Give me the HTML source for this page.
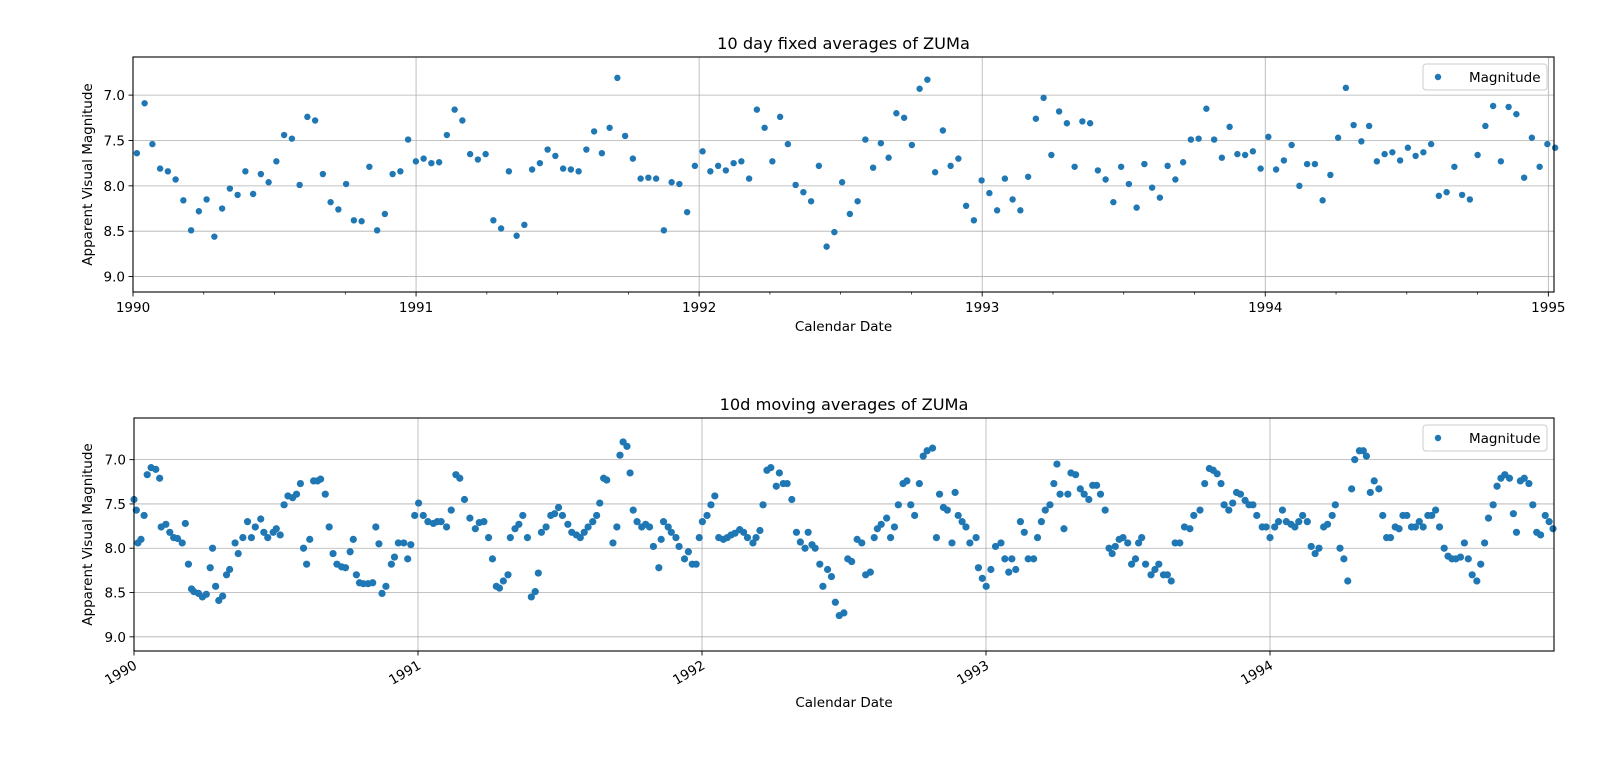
<!DOCTYPE html>
<html><head><meta charset="utf-8"><style>
html,body{margin:0;padding:0;background:#fff;}
svg{display:block;font-family:"DejaVu Sans","Liberation Sans",sans-serif;}
</style></head><body>
<svg id="chart" width="1600" height="770" viewBox="0 0 1600 770" xmlns="http://www.w3.org/2000/svg"></svg>
<script>
// ---- Top chart data: 10 day fixed averages (bin index -> magnitude) ----
const fixedBinDays = 10;
const fixedFirstDay = 5;
const fixedMags = [
7.64,7.09,7.54,7.81,7.84,7.93,8.16,8.49,8.28,8.15,
8.56,8.25,8.03,8.10,7.84,8.09,7.87,7.96,7.73,7.44,
7.48,7.99,7.24,7.28,7.87,8.18,8.26,7.98,8.38,8.39,
7.79,8.49,8.31,7.87,7.84,7.49,7.73,7.70,7.75,7.74,
7.44,7.16,7.28,7.65,7.71,7.65,8.38,8.47,7.84,8.55,
8.43,7.82,7.75,7.60,7.67,7.81,7.82,7.84,7.60,7.40,
7.64,7.36,6.81,7.45,7.70,7.92,7.91,7.92,8.49,7.96,
7.98,8.29,7.78,7.62,7.84,7.78,7.83,7.75,7.73,7.92,
7.16,7.36,7.73,7.24,7.54,7.99,8.07,8.17,7.78,8.67,
8.51,7.96,8.31,8.17,7.49,7.80,7.53,7.69,7.20,7.25,
7.55,6.93,6.83,7.85,7.39,7.78,7.70,8.22,8.38,7.94,
8.08,8.27,7.92,8.15,8.27,7.90,7.26,7.03,7.66,7.18,
7.31,7.79,7.29,7.31,7.83,7.93,8.18,7.79,7.98,8.24,
7.76,8.02,8.13,7.78,7.93,7.74,7.49,7.48,7.15,7.49,
7.69,7.35,7.65,7.66,7.62,7.81,7.46,7.82,7.72,7.55,
8.00,7.76,7.76,8.16,7.88,7.47,6.92,7.33,7.51,7.34,
7.73,7.65,7.63,7.72,7.58,7.67,7.63,7.54,8.11,8.07,
7.79,8.10,8.15,7.66,7.34,7.12,7.73,7.13,7.21,7.91,
7.47,7.79,7.54,7.58];

// ---- Bottom chart data: 10d moving averages (days since 1990-01-01, magnitude) ----
const movingDays = [
0,3,5,9,13,17,22,28,33,35,41,46,51,56,62,66,70,74,77,83,
88,93,98,101,105,109,114,119,123,130,134,140,146,151,156,163,167,172,179,183,
188,193,198,204,209,214,218,222,226,231,236,240,246,251,256,261,267,272,278,282,
286,290,295,301,307,311,315,319,324,331,335,340,347,352,356,361,366,372,378,385,
390,395,402,408,414,419,425,432,439,444,450,456,461,466,470,475,481,484,490,495,
500,506,511,516,520,524,530,536,541,546,551,558,563,569,574,579,584,590,595,599,
604,608,616,621,625,629,634,638,642,647,653,658,663,668,675,678,681,687,691,697,
701,708,713,718,723,727,731,737,742,747,752,758,763,768,773,779,784,789,796,800,
805,809,814,819,826,830,835,840,846,852,857,863,867,872,876,882,886,892,897,902,
907,913,918,923,930,936,941,947,952,956,961,968,973,978,983,989,994,999,1004,1010,
1015,1020,1027,1032,1036,1041,1046,1052,1056,1060,1065,1070,1075,1083,1086,1091,1096,1102,1108,1115,
1120,1125,1129,1134,1140,1145,1150,1157,1162,1167,1172,1178,1183,1187,1191,1196,1201,1205,1211,1217,
1222,1228,1233,1238,1243,1249,1254,1258,1262,1267,1272,1278,1283,1288,1292,1296,1301,1308,1313,1318,
1324,1329,1334,1339,1345,1351,1358,1363,1371,1377,1383,1388,1393,1398,1402,1408,1413,1418,1423,1429,
1434,1439,1444,1451,1456,1461,1467,1472,1477,1482,1488,1493,1498,1503,1509,1514,1519,1524,1530,1535,
1541,1545,1551,1556,1561,1566,1570,1576,1581,1585,1590,1595,1601,1606,1611,1616,1622,1627,1632,1637,
1643,1648,1653,1658,1664,1669,1674,1679,1685,1690,1695,1700,1706,1711,1716,1721,1727,1732,1737,1742,
1748,1753,1758,1763,1769,1774,1778,1783,1788,1794,1799,1804,1809,1815,1820,1825];
const movingMags = [
7.45,7.57,7.94,7.90,7.63,7.17,7.09,7.11,7.21,7.76,7.73,7.82,7.88,7.89,7.94,7.72,8.18,8.46,8.49,8.51,
8.55,8.52,8.22,8.00,8.43,8.59,8.54,8.30,8.24,7.94,8.06,7.88,7.70,7.88,7.76,7.67,7.82,7.88,7.82,7.78,
7.85,7.51,7.41,7.43,7.39,7.27,8.00,8.18,7.90,7.24,7.24,7.22,7.39,7.76,8.06,8.18,8.21,8.22,8.04,7.90,
8.30,8.39,8.40,8.40,8.39,7.76,7.95,8.51,8.43,8.18,8.10,7.94,7.94,8.12,7.96,7.63,7.49,7.63,7.70,7.72,
7.70,7.70,7.76,7.57,7.17,7.21,7.45,7.66,7.78,7.71,7.70,7.88,8.12,8.43,8.45,8.37,8.30,7.88,7.78,7.73,
7.63,7.88,8.55,8.49,8.28,7.82,7.76,7.63,7.61,7.54,7.63,7.73,7.82,7.85,7.88,7.82,7.76,7.70,7.63,7.49,
7.21,7.23,7.94,7.76,6.95,6.80,6.85,7.15,7.57,7.70,7.76,7.73,7.76,7.98,8.22,7.90,7.70,7.76,7.82,7.88,
7.98,8.12,8.04,8.18,8.18,7.88,7.70,7.63,7.51,7.41,7.88,7.90,7.88,7.85,7.83,7.79,7.82,7.88,7.94,7.88,
7.80,7.51,7.12,7.09,7.30,7.15,7.27,7.27,7.45,7.82,7.93,8.00,7.82,7.96,8.00,8.18,8.43,8.24,8.32,8.61,
8.76,8.73,8.12,8.15,7.90,7.94,8.30,8.27,7.88,7.78,7.73,7.66,7.88,7.76,7.51,7.27,7.24,7.51,7.63,7.27,
6.96,6.90,6.87,7.88,7.39,7.54,7.57,7.94,7.37,7.63,7.70,7.76,7.94,7.88,8.22,8.34,8.43,8.24,7.98,7.94,
8.12,8.27,8.12,8.24,7.70,7.82,8.12,8.12,7.88,7.70,7.57,7.51,7.27,7.05,7.39,7.78,7.39,7.15,7.17,7.33,
7.39,7.45,7.29,7.29,7.39,7.57,8.00,8.06,7.98,7.90,7.88,7.94,8.18,8.12,7.94,7.88,8.18,8.30,8.24,8.18,
8.30,8.30,8.37,7.94,7.94,7.76,7.78,7.63,7.57,7.27,7.10,7.12,7.16,7.27,7.51,7.57,7.49,7.37,7.39,7.46,
7.51,7.51,7.63,7.76,7.76,7.88,7.76,7.70,7.57,7.70,7.73,7.76,7.70,7.63,7.70,7.98,8.06,8.00,7.76,7.73,
7.63,7.51,8.00,8.12,8.37,7.33,7.00,6.90,6.90,6.96,7.37,7.24,7.33,7.63,7.88,7.88,7.76,7.78,7.63,7.63,
7.76,7.76,7.70,7.76,7.63,7.63,7.57,7.76,8.00,8.09,8.12,8.12,8.10,7.94,8.12,8.30,8.37,8.18,7.94,7.66,
7.51,7.30,7.21,7.17,7.21,7.61,7.82,7.24,7.21,7.27,7.51,7.82,7.85,7.63,7.70,7.78];

// ---- Tick labels ----
const yTickValues = [7.0, 7.5, 8.0, 8.5, 9.0];
const yTickLabels = ["7.0", "7.5", "8.0", "8.5", "9.0"];
const topYearTicks = [1990, 1991, 1992, 1993, 1994, 1995];
const bottomYearTicks = [1990, 1991, 1992, 1993, 1994];

const NS = "http://www.w3.org/2000/svg";
const svg = document.getElementById("chart");
const COLOR = "#1f77b4";

function mk(tag, attrs, parent) {
  const e = document.createElementNS(NS, tag);
  for (const k in attrs) e.setAttribute(k, attrs[k]);
  (parent || svg).appendChild(e);
  return e;
}

function drawPanel(cfg) {
  const g = mk("g", {});
  
  
  const L = cfg.left, R = cfg.right, T = cfg.top, B = cfg.bottom;
  const xS = v => L + (v - cfg.x0) / (cfg.x1 - cfg.x0) * (R - L);
  const yS = v => T + (v - cfg.y0) / (cfg.y1 - cfg.y0) * (B - T);

  const grid = mk("g", {}, g);
  
  
  cfg.years.forEach(yr => {
    const x = xS(yr);
    if (x >= L - 0.5 && x <= R + 0.5) mk("line", {x1:x, x2:x, y1:T, y2:B, stroke:"#b0b0b0", "stroke-width":0.8}, grid);
  });
  yTickValues.forEach(v => {
    const y = yS(v);
    mk("line", {x1:L, x2:R, y1:y, y2:y, stroke:"#b0b0b0", "stroke-width":0.8}, grid);
  });

  const pts = mk("g", {}, g);
  
  
  cfg.dates.forEach((d, i) => {
    const c = mk("circle", {cx: xS(d).toFixed(2), cy: yS(cfg.mags[i]).toFixed(2), r: cfg.r, fill: COLOR}, pts);
    
    
  });

  const fr = mk("rect", {x:L, y:T, width:R-L, height:B-T, fill:"none", stroke:"#000", "stroke-width":1.1}, g);
  
  

  yTickValues.forEach((v, i) => {
    const y = yS(v);
    mk("line", {x1:L-4.5, x2:L, y1:y, y2:y, stroke:"#000", "stroke-width":0.9}, g);
    const t = mk("text", {x:L-8, y:y+5, "text-anchor":"end", "font-size":"13.5px", fill:"#000"}, g);
    t.textContent = yTickLabels[i];
    
    
  });
  cfg.years.forEach(yr => {
    const x = xS(yr);
    mk("line", {x1:x, x2:x, y1:B, y2:B+4.5, stroke:"#000", "stroke-width":0.9}, g);
    let t;
    if (cfg.rotate) {
      t = mk("text", {x:x+4, y:B+17, "text-anchor":"end", "font-size":"13.5px", fill:"#000",
        transform:`rotate(-30 ${x+4} ${B+17})`}, g);
    } else {
      t = mk("text", {x:x, y:B+20, "text-anchor":"middle", "font-size":"13.5px", fill:"#000"}, g);
    }
    t.textContent = String(yr);
    
    
  });
  if (cfg.minor) {
    cfg.years.forEach(yr => {
      [0.25, 0.5, 0.75].forEach(f => {
        const x = xS(yr + f);
        if (x < R) mk("line", {x1:x, x2:x, y1:B, y2:B+2.5, stroke:"#000", "stroke-width":0.7}, g);
      });
    });
  }

  const tt = mk("text", {x:(L+R)/2, y:T-8, "text-anchor":"middle", "font-size":"16.2px", fill:"#000"}, g);
  tt.textContent = cfg.title;
  
  
  const xl = mk("text", {x:(L+R)/2, y:cfg.xLabelY, "text-anchor":"middle", "font-size":"13.5px", fill:"#000"}, g);
  xl.textContent = "Calendar Date";
  
  
  const cy = (T+B)/2;
  const yl = mk("text", {x:92, y:cy, "text-anchor":"middle", "font-size":"13.5px", fill:"#000", transform:`rotate(-90 92 ${cy})`}, g);
  yl.textContent = "Apparent Visual Magnitude";
  
  

  const lg = mk("g", {}, g);
  
  
  mk("rect", {x:R-131, y:T+7, width:124, height:26, rx:3, fill:"#fff", "fill-opacity":0.8, stroke:"#cccccc", "stroke-width":1}, lg);
  const ld = mk("circle", {cx:R-116, cy:T+20, r:3.2, fill:COLOR}, lg);
  
  
  const lt = mk("text", {x:R-85, y:T+25, "font-size":"13.5px", fill:"#000"}, lg);
  lt.textContent = "Magnitude";
  
  
}

const fixedDates = fixedMags.map((_, i) => 1990 + (fixedFirstDay + i * fixedBinDays) / 365.25);
const movingDates = movingDays.map(d => 1990 + d / 365.25);

drawPanel({name:"fixed-averages-panel", title:"10 day fixed averages of ZUMa",
  left:133, right:1554, top:57, bottom:292, x0:1990, x1:1995.02, y0:6.58, y1:9.17,
  years: topYearTicks, dates: fixedDates, mags: fixedMags, rotate:false, minor:true, xLabelY:331, r:3.2});
drawPanel({name:"moving-averages-panel", title:"10d moving averages of ZUMa",
  left:134, right:1554, top:418, bottom:651, x0:1990, x1:1995.0, y0:6.53, y1:9.16,
  years: bottomYearTicks, dates: movingDates, mags: movingMags, rotate:true, minor:false, xLabelY:707, r:3.6});
</script>
</body></html>
